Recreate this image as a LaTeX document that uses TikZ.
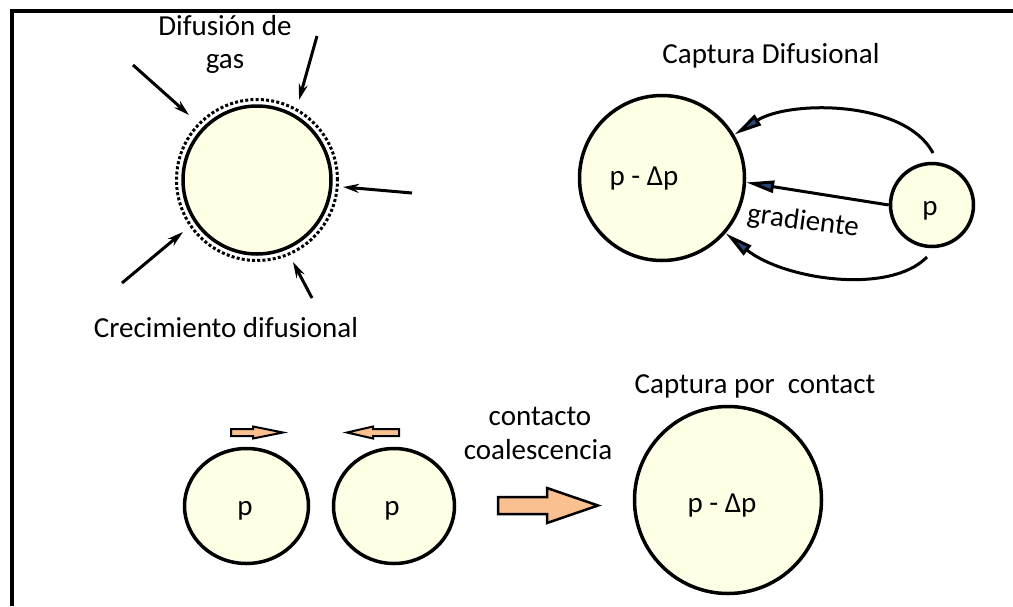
\documentclass[tikz,border=0pt]{standalone}
\usepackage{fontspec}
\setmainfont{Carlito}
\usetikzlibrary{arrows.meta,shapes.geometric}
\definecolor{bub}{RGB}{255,255,229}
\definecolor{peach}{RGB}{250,192,144}
\definecolor{tipblue}{RGB}{38,70,120}
\begin{document}
\begin{tikzpicture}[x=1pt,y=-1pt,
  bubble/.style={circle,draw=black,line width=3.5pt,fill=bub,inner sep=0pt},
  lbl/.style={font=\fontsize{29}{33}\selectfont,inner sep=0pt},
  gasarrow/.style={line width=3pt,-{Stealth[length=16pt,width=9pt]}},
  caparrow/.style={line width=3pt,-{Triangle[length=28pt,width=12pt,fill=tipblue]}},
  block/.style={draw=black,line width=2.5pt,fill=peach,line join=miter}]
\useasboundingbox (0,0) rectangle (1013,606);
\draw[line width=3.5pt] (1013,11) -- (12,11) -- (12,606);

% Crecimiento difusional
\node[circle,draw=black,line width=3pt,dash pattern=on 3pt off 2.2pt,minimum size=161pt,inner sep=0pt] (shell) at (257,180) {};
\node[bubble,minimum size=148pt] (grow) at (257,180) {};
\coordinate (g1s) at (133,65);  \coordinate (g1e) at (189,115);
\coordinate (g2s) at (317,36);  \coordinate (g2e) at (299,100);
\coordinate (g3s) at (412,193); \coordinate (g3e) at (343,187);
\coordinate (g4s) at (122,283); \coordinate (g4e) at (183,232);
\coordinate (g5s) at (312,298); \coordinate (g5e) at (293,262);
\draw[gasarrow] (g1s) -- (g1e);
\draw[gasarrow] (g2s) -- (g2e);
\draw[gasarrow] (g3s) -- (g3e);
\draw[gasarrow] (g4s) -- (g4e);
\draw[gasarrow] (g5s) -- (g5e);
\node[lbl,align=center] (difgas) at (225,44) {Difusión de\\gas};
\node[lbl,anchor=base] (crec) at (226,337) {Crecimiento difusional};

% Captura Difusional
\node[lbl,anchor=base] (captdif) at (771,63) {Captura Difusional};
\node[bubble,minimum size=165pt] (big) at (662,178) {};
\node[lbl,anchor=base] (bigtxt) at (644,185) {p - Δp};
\node[bubble,minimum size=83pt] (small) at (932,205) {};
\node[lbl,anchor=base] (smalltxt) at (930,215) {p};
\draw[caparrow] (small.180) -- (big.-3);
\coordinate (ctop) at (933,153);
\coordinate (cbot) at (927,257);
\draw[caparrow] (ctop) .. controls (905,100) and (790,100) .. (big.31);
\draw[caparrow] (cbot) .. controls (890,295) and (785,280) .. (big.-41);
\node[lbl,rotate=-7.5] (grad) at (803,222) {gradiente};

% Captura por contacto
\node[bubble,ellipse,minimum width=124pt,minimum height=115pt] (b1) at (246.5,506) {};
\node[lbl,anchor=base] (b1txt) at (245,515) {p};
\node[bubble,ellipse,minimum width=121pt,minimum height=115pt] (b2) at (394,506) {};
\node[lbl,anchor=base] (b2txt) at (392,515) {p};
\draw[block,line width=2pt] (231,429) -- (253,429) -- (253,426.5) -- (283,432.5) -- (253,438.5) -- (253,436) -- (231,436) -- cycle;
\draw[block,line width=2pt] (399,429) -- (373,429) -- (373,426.5) -- (347,432.5) -- (373,438.5) -- (373,436) -- (399,436) -- cycle;
\draw[block] (498,497) -- (547,497) -- (547,488) -- (598,505.5) -- (547,523) -- (547,514) -- (498,514) -- cycle;
\node[lbl,anchor=base] (cont) at (540,425) {contacto};
\node[lbl,anchor=base] (coal) at (538,459) {coalescencia};
\node[lbl,anchor=base] (captcon) at (755,393) {Captura por\ \ contact};
\node[bubble,minimum size=187pt] (merged) at (728,500) {};
\node[lbl,anchor=base] (mergedtxt) at (722,512) {p - Δp};
\end{tikzpicture}
\end{document}
